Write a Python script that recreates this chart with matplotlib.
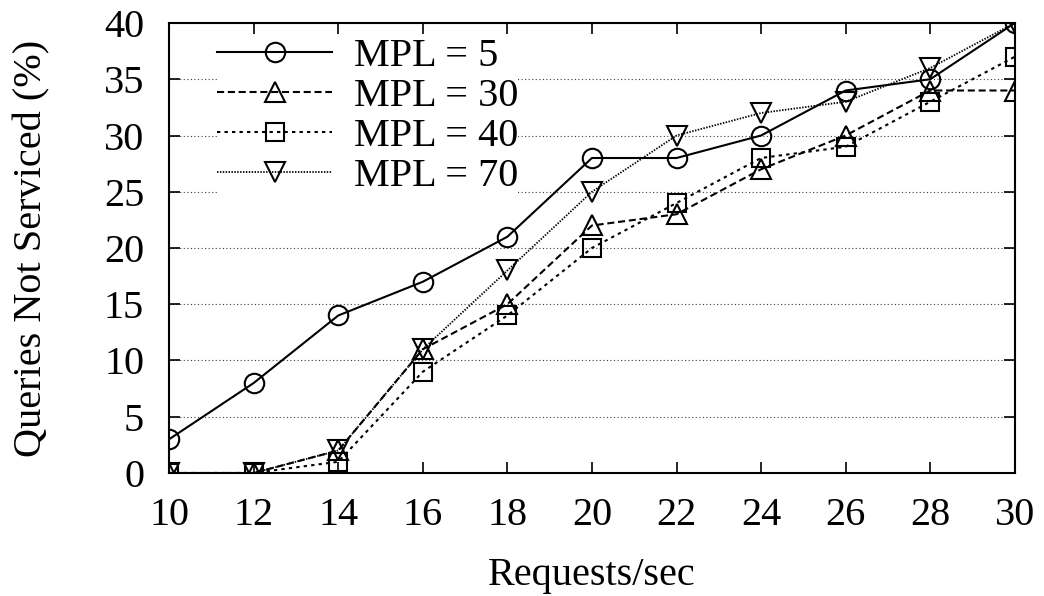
import numpy as np
import matplotlib.pyplot as plt

plt.rcParams['font.family'] = ['Liberation Serif', 'DejaVu Serif']

# Data
requests = [10, 12, 14, 16, 18, 20, 22, 24, 26, 28, 30]
mpl_5 = [3, 8, 14, 17, 21, 28, 28, 30, 34, 35, 40]
mpl_30 = [0, 0, 2, 11, 15, 22, 23, 27, 30, 34, 34]
mpl_40 = [0, 0, 1, 9, 14, 20, 24, 28, 29, 33, 37]
mpl_70 = [0, 0, 2, 11, 18, 25, 30, 32, 33, 36, 40]

fig = plt.figure(figsize=(10.44, 5.96), dpi=100)
ax = fig.add_axes([0.162, 0.2064, 0.810, 0.755])

ms = 14
mew = 1.5
ax.plot(requests, mpl_5, color='black', linestyle='-', linewidth=1.5,
        marker='o', markersize=ms, fillstyle='none', markeredgewidth=mew, label='MPL = 5')
ax.plot(requests, mpl_30, color='black', linestyle=(0, (3.4, 1.8)), linewidth=1.5,
        marker='^', markersize=ms, fillstyle='none', markeredgewidth=mew, label='MPL = 30')
ax.plot(requests, mpl_40, color='black', linestyle=(0, (1.6, 2.0)), linewidth=1.5,
        marker='s', markersize=ms - 1, fillstyle='none', markeredgewidth=mew, label='MPL = 40')
ax.plot(requests, mpl_70, color='black', linestyle=(0, (0.8, 0.8)), linewidth=1.3,
        marker='v', markersize=ms, fillstyle='none', markeredgewidth=mew, label='MPL = 70')

ax.set_xlim(10, 30)
ax.set_ylim(0, 40)
ax.set_xticks(np.arange(10, 31, 2))
ax.set_yticks(np.arange(0, 41, 5))
ax.tick_params(direction='in', length=8, width=1.2, top=True, right=True, labelsize=29)
ax.tick_params(axis='x', pad=17)
ax.tick_params(axis='y', pad=18)
ax.yaxis.grid(True, linestyle=(0, (1, 2.2)), color='#444444', linewidth=0.8)
ax.set_axisbelow(True)
for s in ax.spines.values():
    s.set_linewidth(1.5)

ax.set_xlabel('Requests/sec', fontsize=29, labelpad=17)
ax.set_ylabel('Queries Not Serviced (%)', fontsize=29, labelpad=38)

leg = ax.legend(loc='upper left', fontsize=29, handlelength=2.85, handletextpad=0.55,
                labelspacing=0.07, borderpad=0.0, frameon=True,
                bbox_to_anchor=(0.033, 1.011))
leg.get_frame().set_edgecolor('none')
leg.get_frame().set_facecolor('white')
leg.get_frame().set_alpha(1.0)
leg.get_frame().set_boxstyle('square', pad=0)
leg.set_zorder(2.4)

fig.savefig('out.png', dpi=100)
